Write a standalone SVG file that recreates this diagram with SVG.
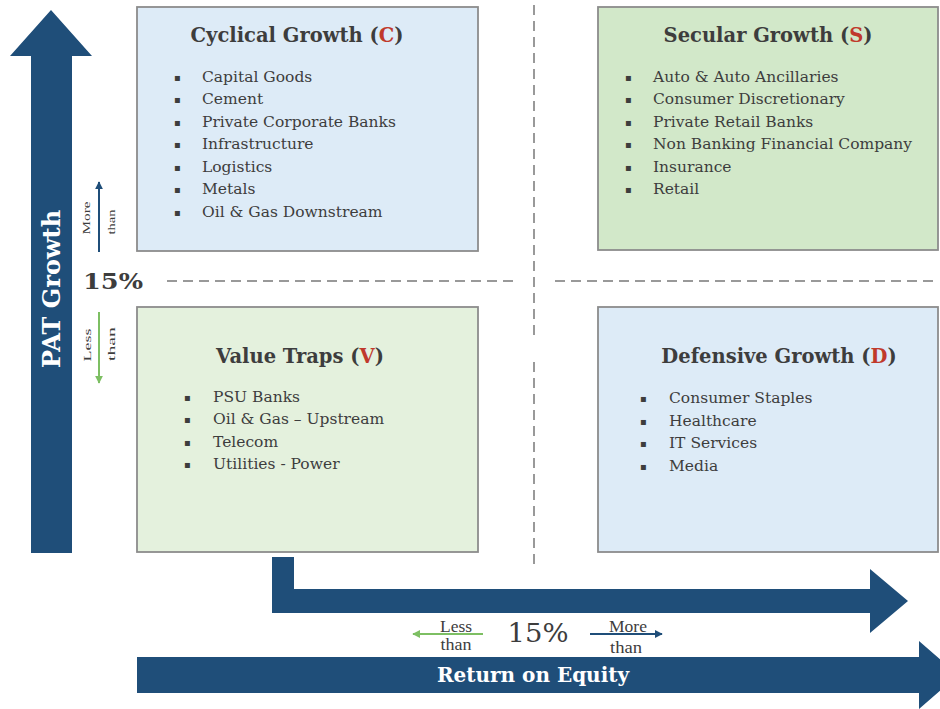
<svg xmlns="http://www.w3.org/2000/svg" width="940" height="709" viewBox="0 0 940 709">
<style>
.box{stroke:#8c8c8c;stroke-width:1.8}
.title{font-family:"DejaVu Serif",serif;font-weight:bold;font-size:19.5px;fill:#3d3d3d;text-anchor:middle}
.red{fill:#c0392b}
.item{font-family:"DejaVu Serif",serif;font-size:15.5px;fill:#3d3d3d}
.bul{font-family:"DejaVu Sans",sans-serif;font-size:10px;fill:#3d3d3d}
.axis{fill:#1f4e79}
.axt{font-family:"DejaVu Serif",serif;font-weight:bold;fill:#ffffff;text-anchor:middle}
.small{font-family:"Liberation Serif",serif;fill:#3d3d3d;text-anchor:middle}
.dash{stroke:#999;stroke-width:2;stroke-dasharray:10 6;fill:none}
</style>
<defs>
<marker id="hb" viewBox="0 0 10 10" refX="9" refY="5" markerWidth="4" markerHeight="4" orient="auto"><path d="M0,0 L10,5 L0,10 Z" fill="#1f4e79"/></marker>
<marker id="hg" viewBox="0 0 10 10" refX="9" refY="5" markerWidth="4" markerHeight="4" orient="auto"><path d="M0,0 L10,5 L0,10 Z" fill="#7dbf63"/></marker>
</defs>
<rect width="940" height="709" fill="#ffffff"/>

<g id="dividers">
<line class="dash" x1="534" y1="5" x2="534" y2="340"/>
<line class="dash" x1="534" y1="362" x2="534" y2="568"/>
<line class="dash" x1="167" y1="281" x2="518" y2="281"/>
<line class="dash" x1="555" y1="281" x2="936" y2="281"/>
</g>

<g id="pat-growth-axis">
<path class="axis" d="M31,553 L31,56 L10,56 L51,10 L92,56 L72,56 L72,553 Z"/>
<text class="axt" font-size="24" transform="translate(60,289) rotate(-90)">PAT Growth</text>
</g>

<g id="roe-axis">
<path class="axis" d="M137,657 L919,657 L919,641 L958,675 L919,709 L919,693 L137,693 Z"/>
<text class="axt" font-size="20" x="533" y="682">Return on Equity</text>
</g>

<g id="roe-bent-arrow">
<path class="axis" d="M272,557 L294,557 L294,589 L870,589 L870,569 L908,601 L870,633 L870,613 L272,613 Z"/>
</g>

<g id="cyclical">
<rect class="box" x="137" y="7" width="341" height="244" fill="#ddebf7"/>
<text class="title" x="297" y="42">Cyclical Growth (<tspan class="red">C</tspan>)</text>
<g class="bul"><text x="174" y="81">▪</text><text x="174" y="103">▪</text><text x="174" y="126">▪</text><text x="174" y="148">▪</text><text x="174" y="171">▪</text><text x="174" y="193">▪</text><text x="174" y="216">▪</text></g>
<g class="item">
<text x="202" y="82">Capital Goods</text>
<text x="202" y="104">Cement</text>
<text x="202" y="127">Private Corporate Banks</text>
<text x="202" y="149">Infrastructure</text>
<text x="202" y="172">Logistics</text>
<text x="202" y="194">Metals</text>
<text x="202" y="217">Oil &amp; Gas Downstream</text>
</g>
</g>

<g id="secular">
<rect class="box" x="598" y="7" width="340" height="243" fill="#d2e8c9"/>
<text class="title" x="768" y="42">Secular Growth (<tspan class="red">S</tspan>)</text>
<g class="bul"><text x="625" y="81">▪</text><text x="625" y="103">▪</text><text x="625" y="126">▪</text><text x="625" y="148">▪</text><text x="625" y="171">▪</text><text x="625" y="193">▪</text></g>
<g class="item">
<text x="653" y="82">Auto &amp; Auto Ancillaries</text>
<text x="653" y="104">Consumer Discretionary</text>
<text x="653" y="127">Private Retail Banks</text>
<text x="653" y="149">Non Banking Financial Company</text>
<text x="653" y="172">Insurance</text>
<text x="653" y="194">Retail</text>
</g>
</g>

<g id="value-traps">
<rect class="box" x="137" y="307" width="341" height="245" fill="#e4f1dd"/>
<text class="title" x="300" y="363">Value Traps (<tspan class="red">V</tspan>)</text>
<g class="bul"><text x="184" y="401">▪</text><text x="184" y="423">▪</text><text x="184" y="446">▪</text><text x="184" y="468">▪</text></g>
<g class="item">
<text x="213" y="402">PSU Banks</text>
<text x="213" y="424">Oil &amp; Gas – Upstream</text>
<text x="213" y="447">Telecom</text>
<text x="213" y="469">Utilities - Power</text>
</g>
</g>

<g id="defensive">
<rect class="box" x="598" y="307" width="340" height="245" fill="#ddebf7"/>
<text class="title" x="779" y="363">Defensive Growth (<tspan class="red">D</tspan>)</text>
<g class="bul"><text x="640" y="402">▪</text><text x="640" y="425">▪</text><text x="640" y="447">▪</text><text x="640" y="470">▪</text></g>
<g class="item">
<text x="669" y="403">Consumer Staples</text>
<text x="669" y="426">Healthcare</text>
<text x="669" y="448">IT Services</text>
<text x="669" y="471">Media</text>
</g>
</g>

<g id="pat-threshold">
<text x="113" y="289" font-family="DejaVu Serif, serif" font-weight="bold" font-size="23" fill="#3d3d3d" text-anchor="middle" textLength="60" lengthAdjust="spacingAndGlyphs">15%</text>
<text class="small" font-size="11" transform="translate(90,218) rotate(-90)" textLength="33" lengthAdjust="spacingAndGlyphs">More</text>
<text class="small" font-size="11" transform="translate(115,222) rotate(-90)" textLength="25" lengthAdjust="spacingAndGlyphs">than</text>
<text class="small" font-size="11" transform="translate(91,345) rotate(-90)" textLength="33" lengthAdjust="spacingAndGlyphs">Less</text>
<text class="small" font-size="11" transform="translate(115,344) rotate(-90)" textLength="34" lengthAdjust="spacingAndGlyphs">than</text>
</g>

<g id="roe-threshold">
<text x="538" y="642" font-family="DejaVu Serif, serif" font-size="26" fill="#3d3d3d" text-anchor="middle" textLength="61" lengthAdjust="spacingAndGlyphs">15%</text>
<text class="small" font-size="16" x="456" y="632" textLength="32" lengthAdjust="spacingAndGlyphs">Less</text>
<text class="small" font-size="16" x="456" y="650" textLength="31" lengthAdjust="spacingAndGlyphs">than</text>
<text class="small" font-size="16" x="628" y="632" textLength="38" lengthAdjust="spacingAndGlyphs">More</text>
<text class="small" font-size="16" x="626" y="653" textLength="32" lengthAdjust="spacingAndGlyphs">than</text>
</g>

<g id="connectors">
<line x1="99" y1="252" x2="99" y2="182" stroke="#1f4e79" stroke-width="2" marker-end="url(#hb)"/>
<line x1="99" y1="312" x2="99" y2="383" stroke="#7dbf63" stroke-width="2" marker-end="url(#hg)"/>
<line x1="483" y1="634" x2="413" y2="634" stroke="#7dbf63" stroke-width="2" marker-end="url(#hg)"/>
<line x1="590" y1="634" x2="662" y2="634" stroke="#1f4e79" stroke-width="2" marker-end="url(#hb)"/>
</g>
</svg>
